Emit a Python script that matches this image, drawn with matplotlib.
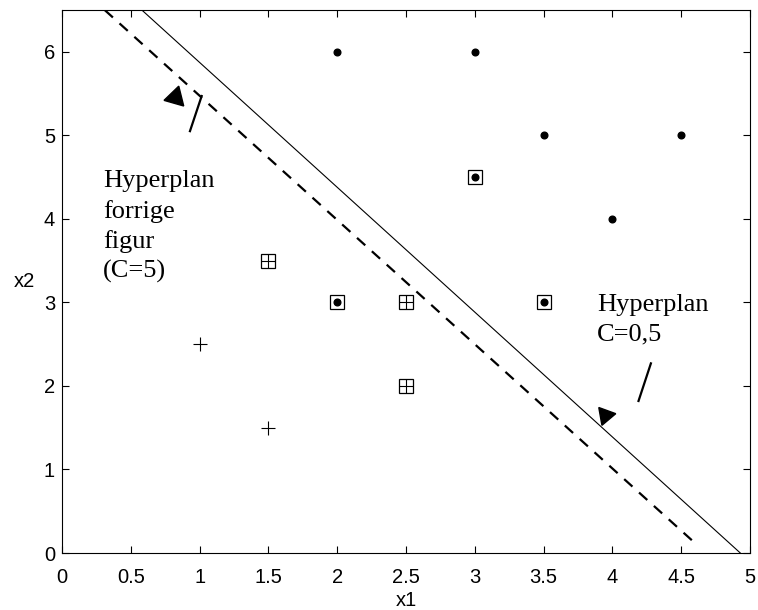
import numpy as np
import matplotlib.pyplot as plt

# klasse 1 (prikker) og klasse 2 (kryss)
dot_x = [2, 3, 3.5, 4.5, 4, 3, 2, 3.5]
dot_y = [6, 6, 5, 5, 4, 4.5, 3, 3]
plus_x = [1, 1.5, 1.5, 2.5, 2.5]
plus_y = [2.5, 1.5, 3.5, 3, 2]

# stottevektorer (med boks)
sv_dot_x = [3, 2, 3.5]
sv_dot_y = [4.5, 3, 3]
sv_plus_x = [1.5, 2.5, 2.5]
sv_plus_y = [3.5, 3, 2]

# hyperplan
hp_old_x = [0.31, 4.6]    # C=5, stiplet
hp_old_y = [6.5, 0.12]
hp_new_x = [0.58, 4.93]   # C=0,5
hp_new_y = [6.5, 0.0]

# piler: strek (fra, til) og pilspiss
arrow1_x = [0.93, 1.015]
arrow1_y = [5.05, 5.47]
head1 = (0.82, 5.46, -16)
arrow2_x = [4.19, 4.28]
arrow2_y = [1.82, 2.27]
head2 = (3.95, 1.65, 40)

xticks = np.arange(0, 5.01, 0.5)
xticklabels = ['0', '0.5', '1', '1.5', '2', '2.5', '3', '3.5', '4', '4.5', '5']
yticks = np.arange(0, 7)

sans = ['Liberation Sans', 'DejaVu Sans']
serif = ['Liberation Serif', 'DejaVu Serif']

fig = plt.figure(figsize=(7.58, 6.10), dpi=100)
ax = fig.add_axes([0.0818, 0.0934, 0.9076, 0.8902])

ax.plot(hp_old_x, hp_old_y, 'k--', lw=1.6, dashes=(5, 4))
ax.plot(hp_new_x, hp_new_y, 'k-', lw=0.8)

ax.plot(dot_x, dot_y, 'ko', ms=4.8, ls='none')
ax.plot(plus_x, plus_y, 'k+', ms=9.5, mew=0.8, ls='none')
ax.plot(sv_dot_x + sv_plus_x, sv_dot_y + sv_plus_y, 'ks', ms=9.5, mfc='none',
        mew=0.9, ls='none')

ax.plot(arrow1_x, arrow1_y, 'k-', lw=1.6)
ax.plot(arrow2_x, arrow2_y, 'k-', lw=1.6)
ax.plot(head1[0], head1[1], marker=(3, 0, head1[2]), ms=17, color='k')
ax.plot(head2[0], head2[1], marker=(3, 0, head2[2]), ms=15, color='k')

ax.text(0.3, 4.58, 'Hyperplan\nforrige\nfigur\n(C=5)', family=serif, fontsize=19,
        va='top', ha='left', linespacing=1.4)
ax.text(3.89, 3.1, 'Hyperplan\nC=0,5', family=serif, fontsize=19,
        va='top', ha='left', linespacing=1.45)

ax.set_xlim(0, 5)
ax.set_ylim(0, 6.5)
ax.set_xticks(xticks)
ax.set_xticklabels(xticklabels)
ax.set_yticks(yticks)
ax.tick_params(direction='in', top=True, right=True, length=5, labelsize=14.5)
ax.tick_params(axis='x', pad=10.5)
ax.tick_params(axis='y', pad=5)
for lab in ax.get_xticklabels() + ax.get_yticklabels():
    lab.set_family(sans)
ax.set_xlabel('x1', fontsize=14.5, family=sans, labelpad=3)
ax.set_ylabel('x2', fontsize=14.5, family=sans, rotation=0, labelpad=14,
              va='center')

plt.savefig('out.png', dpi=100)
